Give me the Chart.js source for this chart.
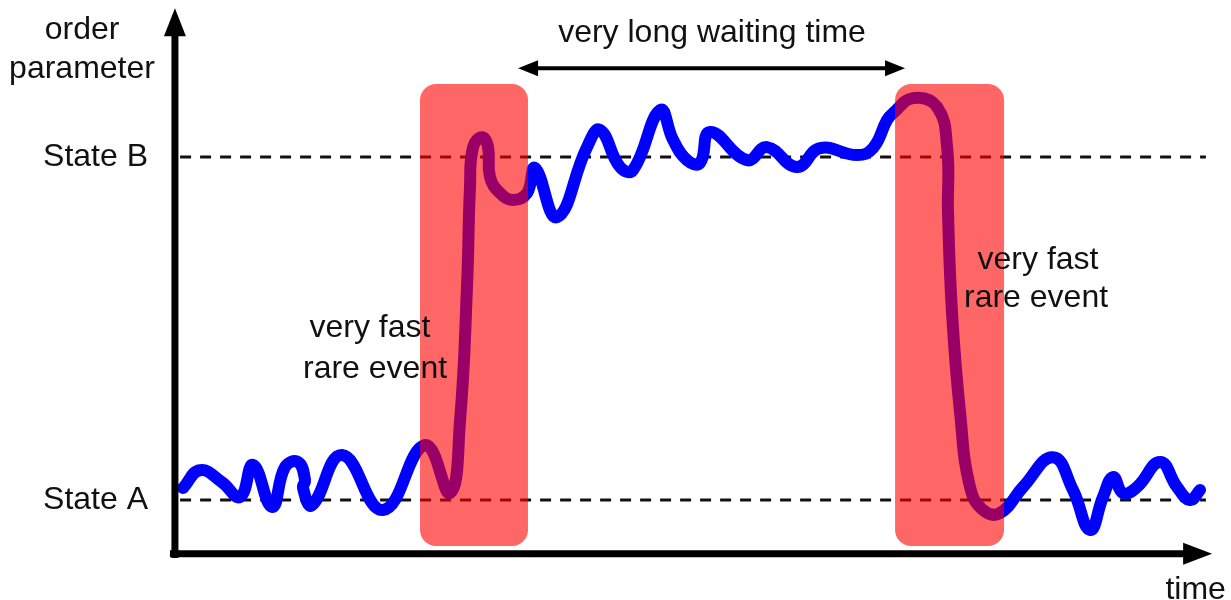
<!DOCTYPE html>
<html>
<head>
<meta charset="utf-8">
<script src="https://cdn.jsdelivr.net/npm/chart.js@4"></script>
<style>
  body { margin: 0; background: #fff; }
</style>
</head>
<body>
<canvas id="rareEvent" width="1231" height="600"></canvas>
<script>
// order parameter trajectory (time in arbitrary units, State A = 0, State B = 1)
const timeVals = [0.48, 2.13, 4.26, 6.01, 7.27, 9.11, 10.37, 11.63, 12.31, 12.11, 12.98, 15.89, 19.86, 23.9,
  26.36, 27.33, 28.0, 28.29, 28.59, 29.46, 30.04, 30.23, 31.2, 32.46, 33.82, 34.59, 36.72, 39.63, 40.89,
  42.83, 44.09, 46.71, 47.97, 49.32, 50.58, 51.55, 55.14, 57.07, 59.98, 62.21, 65.79, 67.34, 68.7,
  69.28, 71.22, 73.55, 74.52, 74.61, 75.0, 75.78, 76.74, 78.0, 79.65, 81.88, 84.79, 86.72, 88.37, 89.63,
  90.6, 91.57, 92.93, 95.16, 96.8, 98.06, 99.03];
const orderVals = [0.035, 0.087, 0.052, 0.009, 0.102, -0.02, 0.096, 0.111, 0.058, 0.035, -0.015, 0.131, -0.029, 0.16,
  0.02, 0.233, 0.621, 0.913, 1.029, 1.058, 1.029, 0.942, 0.895, 0.875, 0.895, 0.968, 0.825, 1.029, 1.079,
  0.971, 0.962, 1.137, 1.05, 0.991, 0.983, 1.073, 0.991, 1.029, 0.971, 1.026, 1.006, 1.026, 1.108,
  1.128, 1.172, 1.146, 1.029, 0.837, 0.545, 0.254, 0.038, -0.029, -0.038, 0.038, 0.125, 0.029, -0.087, 0.009,
  0.067, 0.02, 0.038, 0.111, 0.038, 0.0, 0.029];

const stateLevels = [0, 1];
const stateLabels = ['State A', 'State B'];

// rare event windows
const eventStart = [23.45, 69.48];
const eventEnd = [33.91, 80.04];

const curve = timeVals.map((t, i) => ({ x: t, y: orderVals[i] }));
const stateSets = stateLevels.map(lvl => ({
    data: [{ x: 0.2, y: lvl }, { x: 99.6, y: lvl }],
    borderColor: '#111',
    borderWidth: 3,
    borderDash: [11, 9],
    pointRadius: 0,
    showLine: true
}));

function arrowHead(ctx, x, y, angle, len, half) {
    ctx.save();
    ctx.translate(x, y);
    ctx.rotate(angle);
    ctx.beginPath();
    ctx.moveTo(0, 0);
    ctx.lineTo(-len, -half);
    ctx.lineTo(-len, half);
    ctx.closePath();
    ctx.fill();
    ctx.restore();
}

const sketchPlugin = {
    id: 'sketch',
    afterDatasetsDraw(chart) {
        const ctx = chart.ctx;
        const xs = chart.scales.x, ys = chart.scales.y;
        const px = v => xs.getPixelForValue(v);
        const py = v => ys.getPixelForValue(v);

        // red boxes over the transitions
        ctx.save();
        ctx.fillStyle = 'rgba(255, 0, 0, 0.6)';
        eventStart.forEach((s, i) => {
            const x0 = px(s), x1 = px(eventEnd[i]);
            const y0 = py(1.213), y1 = py(-0.134);
            ctx.beginPath();
            ctx.roundRect(x0, y0, x1 - x0, y1 - y0, 16);
            ctx.fill();
        });
        ctx.restore();

        // axes
        ctx.save();
        ctx.strokeStyle = '#000';
        ctx.fillStyle = '#000';
        ctx.lineWidth = 7;
        ctx.beginPath();
        ctx.moveTo(px(-0.3), py(-0.169));
        ctx.lineTo(px(-0.3), py(1.36));
        ctx.moveTo(px(-0.78), py(-0.157));
        ctx.lineTo(px(97.5), py(-0.157));
        ctx.stroke();
        arrowHead(ctx, px(-0.3), py(1.434), -Math.PI / 2, 28, 11);
        arrowHead(ctx, px(100.2), py(-0.157), 0, 29, 11);

        // double arrow
        ctx.lineWidth = 4;
        ctx.beginPath();
        ctx.moveTo(px(34.5), py(1.259));
        ctx.lineTo(px(69), py(1.259));
        ctx.stroke();
        arrowHead(ctx, px(32.95), py(1.259), Math.PI, 20, 8);
        arrowHead(ctx, px(70.45), py(1.259), 0, 20, 8);

        // texts
        ctx.font = '32px "Liberation Sans", Arial, sans-serif';
        ctx.textBaseline = 'middle';
        ctx.fillStyle = '#111';
        ctx.textAlign = 'center';
        ctx.fillText('order', px(-9.3), py(1.37));
        ctx.fillText('parameter', px(-9.3), py(1.255));
        ctx.fillText('very long waiting time', px(51.74), py(1.36));
        ctx.fillText('very fast', px(18.6), py(0.5));
        ctx.fillText('rare event', px(19.09), py(0.383));
        ctx.fillText('very fast', px(83.33), py(0.7));
        ctx.fillText('rare event', px(83.14), py(0.588));
        ctx.fillText('time', px(98.6), py(-0.262));
        ctx.textAlign = 'right';
        stateLevels.forEach((lvl, i) => {
            ctx.fillText(stateLabels[i], px(-2.91), py(lvl));
        });
        ctx.restore();
    }
};

new Chart(document.getElementById('rareEvent'), {
    type: 'scatter',
    data: {
        datasets: [{
            data: curve,
            borderColor: '#0000ff',
            borderWidth: 12,
            tension: 0.45,
            pointRadius: 0,
            showLine: true,
            borderCapStyle: 'round',
            borderJoinStyle: 'round'
        }, ...stateSets]
    },
    options: {
        responsive: false,
        animation: false,
        layout: { padding: 0 },
        plugins: { legend: { display: false }, tooltip: { enabled: false } },
        scales: {
            x: { type: 'linear', display: false, min: -17.25, max: 102.03 },
            y: { type: 'linear', display: false, min: -0.2915, max: 1.458 }
        }
    },
    plugins: [sketchPlugin]
});
</script>
</body>
</html>
